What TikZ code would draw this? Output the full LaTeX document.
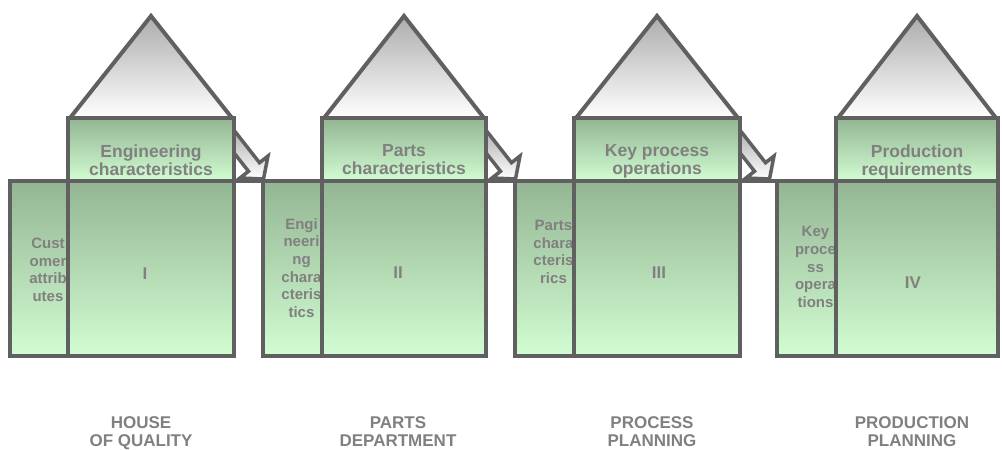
\documentclass[tikz,border=0pt]{standalone}
\usepackage{fontspec}
\setmainfont{Liberation Sans}
\usetikzlibrary{shadings}

\definecolor{edgegray}{RGB}{96,96,96}
\definecolor{labelgray}{RGB}{128,128,128}
\definecolor{boxtop}{RGB}{147,181,147}
\definecolor{boxbot}{RGB}{210,253,210}
\definecolor{rooftop}{RGB}{172,172,172}

% One house: roof, top room, side column and main room.
% #1 name, #2 column left, #3 main left, #4 main right,
% #5 top text, #6 column text, #7 column text height
\newcommand\qfdhouse[7]{%
  \pgfmathsetmacro\apx{(#3+#4)/2}%
  \draw[roofshape] (#3+2,-118) -- (\apx,-16) -- (#4-2,-118) -- cycle;
  \draw[greenbox] (#3,-118) rectangle (#4,-181);
  \node[toptext] (#1-top) at (\apx,-162.4) {#5};
  \draw[greenbox] (#2,-181) rectangle (#3,-356);
  \node[coltext] (#1-col) at (#2+38.5,-#7) {#6};
  \draw[greenbox] (#3,-181) rectangle (#4,-356);
}

% Block arrow leaving the top room whose right edge is at #1,
% and the joining line to the next column starting at #2.
\newcommand\qfdarrow[2]{%
  \draw[blockarrow] (#1-2.3,-127.3) -- (#1+25.5,-162.7) -- (#1+34,-156)
    -- (#1+29.5,-179) -- (#1+6,-178) -- (#1+14.5,-171.3)
    -- (#1-13.3,-135.9) -- cycle;
  \draw[outline] (#1,-181) -- (#2,-181);
}

\begin{document}
\begin{tikzpicture}[x=1pt,y=1pt,
  outline/.style={draw=edgegray,line width=4pt,line join=miter},
  roofshape/.style={outline,top color=rooftop,bottom color=white},
  greenbox/.style={outline,top color=boxtop,bottom color=boxbot},
  blockarrow/.style={draw=edgegray,line width=3.5pt,line join=miter,
    top color=rooftop,bottom color=white},
  struts/.style={execute at begin node=\strut,execute at end node=\strut},
  toptext/.style={struts,text=labelgray,inner sep=0,align=center,
    font=\bfseries\fontsize{17.5}{18}\selectfont},
  coltext/.style={text=labelgray,inner sep=0,align=center,
    font=\bfseries\fontsize{15}{17.6}\selectfont},
  roman/.style={text=labelgray,inner sep=0,
    font=\bfseries\fontsize{17}{19}\selectfont},
  caption/.style={struts,text=labelgray,inner sep=0,align=center,
    font=\bfseries\fontsize{17}{18}\selectfont}]

\useasboundingbox (0,0) rectangle (1002,-450);

% arrows between the houses
\qfdarrow{234}{263}
\qfdarrow{486}{515}
\qfdarrow{740}{777}

% the four houses
\qfdhouse{hoq}{9.5}{68}{234}{Engineering\\characteristics}{Cust\\omer\\attrib\\utes}{270}
\qfdhouse{parts}{263}{322}{486}{Parts\\characteristics}{Engi\\neeri\\ng\\chara\\cteris\\tics}{268}
\qfdhouse{process}{515}{574}{740}{Key process\\operations}{Parts\\chara\\cteris\\rics}{252}
\qfdhouse{prod}{777}{836}{998}{Production\\requirements}{Key\\proce\\ss\\opera\\tions}{267}

% phase numbers
\node[roman] (n1) at (145,-274) {I};
\node[roman] (n2) at (398,-273) {II};
\node[roman] (n3) at (659,-273) {III};
\node[roman] (n4) at (913,-283) {IV};

% phase names
\node[caption] (c1) at (141,-434) {HOUSE\\OF QUALITY};
\node[caption] (c2) at (398,-434) {PARTS\\DEPARTMENT};
\node[caption] (c3) at (652,-434) {PROCESS\\PLANNING};
\node[caption] (c4) at (912,-434) {PRODUCTION\\PLANNING};
\end{tikzpicture}
\end{document}
